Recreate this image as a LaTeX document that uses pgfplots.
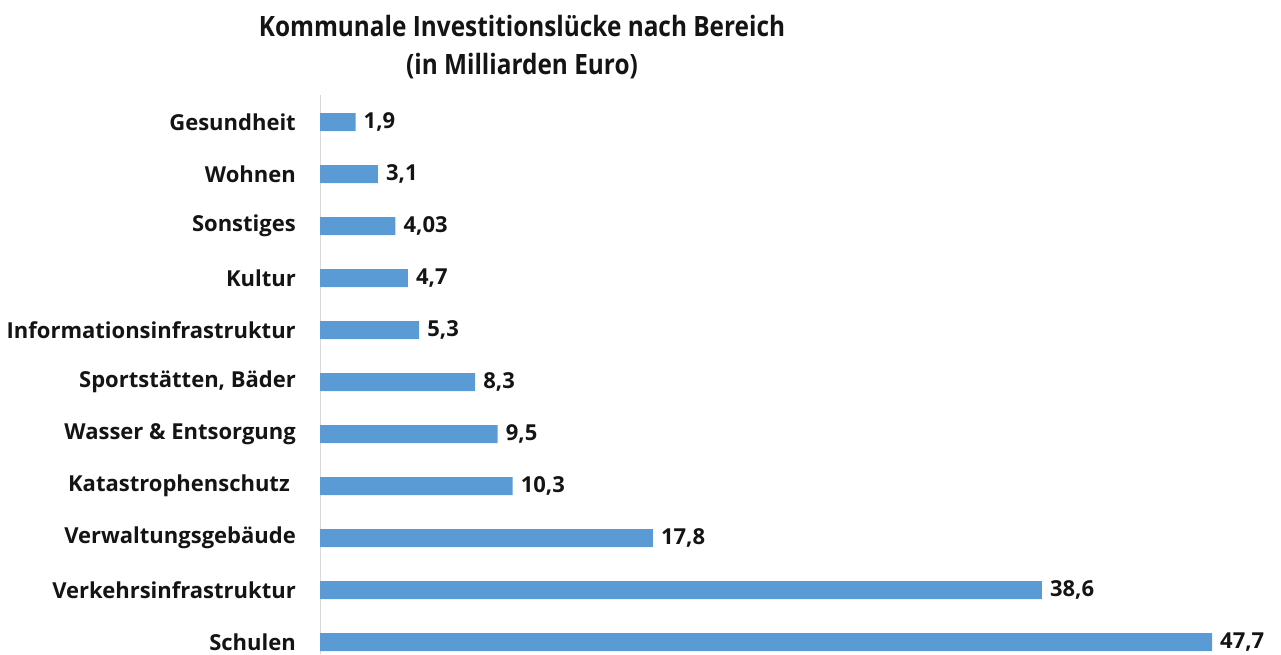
\documentclass[border=0pt]{standalone}
\usepackage{pgfplots}
\usepackage{pgfplotstable}
\pgfplotsset{compat=1.18}
\usepackage{fontspec}
\setmainfont{Open Sans}
\newfontfamily\titlefont[FakeStretch=0.87]{Open Sans}
\newfontfamily\labfont{Open Sans}
\definecolor{barblue}{RGB}{91,155,213}
\definecolor{txt}{RGB}{20,20,20}
\pgfplotstableread{
y x label
10 1.9 {1,9}
9 3.1 {3,1}
8 4.03 {4,03}
7 4.7 {4,7}
6 5.3 {5,3}
5 8.3 {8,3}
4 9.5 {9,5}
3 10.3 {10,3}
2 17.8 {17,8}
1 38.6 {38,6}
0 47.7 {47,7}
}\datatable
\begin{document}
\begin{tikzpicture}
\useasboundingbox (0,0) rectangle (1281pt,654pt);
\begin{axis}[
  at={(320pt,0pt)}, anchor=south west,
  scale only axis, width=935pt, height=559pt,
  xmin=0, xmax=50, ymin=-0.23, ymax=10.52,
  xbar, bar width=18pt,
  axis x line=none,
  axis y line*=left,
  y axis line style={draw=black!15, line width=1pt},
  xtick=\empty,
  ytick={0,...,10},
  yticklabels={Schulen, Verkehrsinfrastruktur, Verwaltungsgebäude, {Katastrophenschutz\hbox to 6pt{}}, Wasser \& Entsorgung, {Sportstätten, Bäder}, Informationsinfrastruktur, Kultur, Sonstiges, Wohnen, Gesundheit},
  major tick length=0pt,
  yticklabel style={font=\labfont\fontsize{22}{26}\selectfont\bfseries, text=txt, inner sep=0pt, anchor=east, xshift=-24pt},
  nodes near coords={\pgfplotspointmeta},
  point meta=explicit symbolic,
  nodes near coords style={font=\labfont\fontsize{22}{26}\selectfont\bfseries, text=txt, anchor=west, inner sep=0pt, xshift=8pt},
  clip=false,
]
\addplot[fill=barblue, draw=none] table[x=x, y=y, meta=label]{\datatable};
\end{axis}
\node[align=center, font=\titlefont\fontsize{28}{38}\selectfont\bfseries, text=txt] at (522pt,607pt) {Kommunale Investitionslücke nach Bereich\\(in Milliarden Euro)};
\end{tikzpicture}
\end{document}
